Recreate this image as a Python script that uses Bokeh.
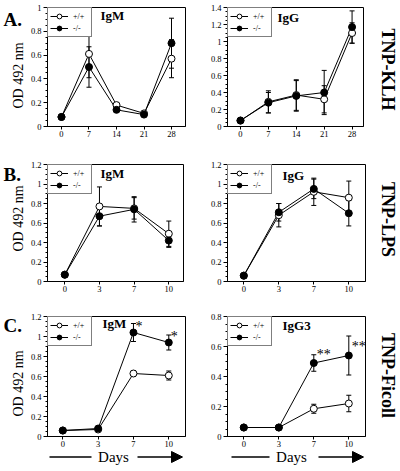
import math
from bokeh.plotting import figure
from bokeh.models import (Range1d, FixedTicker, Legend, LegendItem, Label, Whisker,
                          TeeHead, ColumnDataSource, Arrow, NormalHead)
from bokeh.layouts import column, row
from bokeh.embed import file_html
from bokeh.resources import INLINE
from bokeh.core.properties import value

SERIF = "Liberation Serif"

# ---------------- data ----------------
klh_days = ["0", "7", "14", "21", "28"]
short_days = ["0", "3", "7", "10"]

klh_igm_wt = [0.08, 0.61, 0.18, 0.11, 0.57]
klh_igm_wt_err = [0.0, 0.20, 0.02, 0.01, 0.16]
klh_igm_ko = [0.08, 0.50, 0.14, 0.10, 0.70]
klh_igm_ko_err = [0.0, 0.17, 0.01, 0.01, 0.21]

klh_igg_wt = [0.07, 0.29, 0.37, 0.32, 1.10]
klh_igg_wt_err = [0.0, 0.13, 0.18, 0.16, 0.12]
klh_igg_ko = [0.07, 0.28, 0.36, 0.40, 1.17]
klh_igg_ko_err = [0.0, 0.12, 0.18, 0.26, 0.19]

lps_igm_wt = [0.07, 0.77, 0.75, 0.49]
lps_igm_wt_err = [0.0, 0.20, 0.11, 0.13]
lps_igm_ko = [0.07, 0.67, 0.74, 0.42]
lps_igm_ko_err = [0.0, 0.10, 0.13, 0.07]

lps_igg_wt = [0.06, 0.68, 0.92, 0.86]
lps_igg_wt_err = [0.0, 0.12, 0.14, 0.17]
lps_igg_ko = [0.06, 0.71, 0.95, 0.70]
lps_igg_ko_err = [0.0, 0.09, 0.10, 0.13]

fic_igm_wt = [0.06, 0.07, 0.63, 0.61]
fic_igm_wt_err = [0.0, 0.01, 0.03, 0.045]
fic_igm_ko = [0.06, 0.08, 1.04, 0.94]
fic_igm_ko_err = [0.0, 0.01, 0.09, 0.075]

fic_igg3_wt = [0.06, 0.06, 0.185, 0.22]
fic_igg3_wt_err = [0.0, 0.0, 0.03, 0.055]
fic_igg3_ko = [0.06, 0.06, 0.49, 0.54]
fic_igg3_ko_err = [0.0, 0.0, 0.055, 0.13]

fic_igm_stars = ["*", "*"]
fic_igm_star_idx = [2, 3]
fic_igm_star_y = [1.10, 1.00]
fic_igg3_stars = ["**", "**"]
fic_igg3_star_idx = [2, 3]
fic_igg3_star_y = [0.55, 0.60]

panel_letters = ["A.", "B.", "C."]
antigens = ["TNP-KLH", "TNP-LPS", "TNP-Ficoll"]
y_title = "OD 492 nm"
x_title = "Days"

yt_10 = [0, 0.2, 0.4, 0.6, 0.8, 1]
yt_12 = [0, 0.2, 0.4, 0.6, 0.8, 1, 1.2]
yt_14 = [0, 0.2, 0.4, 0.6, 0.8, 1, 1.2, 1.4]
yt_08 = [0, 0.2, 0.4, 0.6, 0.8]

PAGE_W, PAGE_H = 400, 471


def blank_fig(x0, y0, w, h):
    """A figure without axes whose frame fills it; ranges are page pixels."""
    p = figure(width=w, height=h, output_backend="svg", toolbar_location=None,
               x_range=Range1d(x0, x0 + w), y_range=Range1d(y0 + h, y0),
               x_axis_type=None, y_axis_type=None,
               min_border_left=0, min_border_right=0, min_border_top=0, min_border_bottom=0)
    p.xgrid.visible = False
    p.ygrid.visible = False
    p.outline_line_color = None
    p.background_fill_color = "white"
    p.border_fill_color = "white"
    return p


def add_label(p, x, y, text, size, bold=False, align="left", angle=0.0):
    p.add_layout(Label(x=x, y=y, text=text, text_font=SERIF, text_font_size=size,
                       text_align=align, text_baseline="middle",
                       text_font_style="bold" if bold else "normal",
                       text_color="black", angle=angle))


def make_panel(cfg):
    ox, oy = cfg["origin"]
    w, h = cfg["size"]
    bl, br, bt, bb = cfg["borders"]
    x0, x1 = cfg["xr"]
    y0, y1 = cfg["yr"]
    fl, fr, ft, fb = ox + bl, ox + w - br, oy + bt, oy + h - bb

    def dx(px):
        return x0 + (px - fl) / (fr - fl) * (x1 - x0)

    def dy(py):
        return y1 - (py - ft) / (fb - ft) * (y1 - y0)

    p = figure(width=w, height=h, output_backend="svg", toolbar_location=None,
               x_range=Range1d(x0, x1), y_range=Range1d(y0, y1),
               min_border_left=bl, min_border_right=br,
               min_border_top=bt, min_border_bottom=bb)
    p.xgrid.visible = False
    p.ygrid.visible = False
    p.outline_line_color = "black"
    p.outline_line_width = 1
    p.background_fill_color = "white"
    p.border_fill_color = "white"

    cats = cfg["cats"]
    idx = list(range(len(cats)))
    p.xaxis.ticker = FixedTicker(ticks=idx)
    p.xaxis.major_label_overrides = {i: c for i, c in zip(idx, cats)}
    yt = cfg["yticks"]
    minor = []
    for k in range(len(yt) - 1):
        for j in range(1, 4):
            minor.append(round(yt[k] + j * (yt[k + 1] - yt[k]) / 4, 4))
    p.yaxis.ticker = FixedTicker(ticks=yt, minor_ticks=minor)
    p.yaxis.major_label_overrides = {t: ("%g" % t) for t in yt}

    for ax in (p.xaxis[0], p.yaxis[0]):
        ax.axis_line_color = "black"
        ax.major_tick_line_color = "black"
        ax.minor_tick_line_color = "black"
        ax.major_tick_in = 0
        ax.minor_tick_in = 0
        ax.major_label_text_font = SERIF
        ax.major_label_text_font_size = "8.5px"
        ax.major_label_text_color = "black"
    p.xaxis.major_label_standoff = 1
    p.yaxis.major_label_standoff = 2
    p.xaxis.major_tick_out = 3
    p.yaxis.major_tick_out = 4
    p.yaxis.minor_tick_out = 2

    wt, wte, ko, koe = cfg["wt"], cfg["wte"], cfg["ko"], cfg["koe"]
    for vals, errs in ((wt, wte), (ko, koe)):
        src = ColumnDataSource(dict(x=idx, upper=[v + e for v, e in zip(vals, errs)],
                                    lower=[v - e for v, e in zip(vals, errs)]))
        wh = Whisker(base="x", upper="upper", lower="lower", source=src,
                     line_color="black", line_width=1, level="underlay",
                     upper_head=TeeHead(size=5, line_color="black", line_width=1),
                     lower_head=TeeHead(size=5, line_color="black", line_width=1))
        p.add_layout(wh)

    lw = p.line(idx, wt, line_color="black", line_width=1)
    lk = p.line(idx, ko, line_color="black", line_width=1)
    sw = p.scatter(idx, wt, marker="circle", size=7, fill_color="white",
                   line_color="black", line_width=1)
    sk = p.scatter(idx, ko, marker="circle", size=7, fill_color="black",
                   line_color="black", line_width=1)

    legend = Legend(items=[LegendItem(label="+/+", renderers=[lw, sw]),
                           LegendItem(label="-/-", renderers=[lk, sk])],
                    location="top_left", margin=0, padding=2, spacing=0,
                    glyph_width=18, glyph_height=12, label_height=12, label_width=16,
                    label_standoff=5, label_text_font=SERIF, label_text_font_size="8px",
                    label_text_color="black",
                    border_line_color="black", border_line_width=1,
                    background_fill_color="white", background_fill_alpha=1)
    p.add_layout(legend)

    if "stars" in cfg:
        s_idx, s_y, s_t, s_off = cfg["stars"]
        p.text(s_idx, s_y, text=s_t, x_offset=s_off, text_font=value(SERIF),
               text_font_size="14px", text_align="left", text_baseline="middle",
               text_color="black")

    tx, ty, ttext = cfg["title"]
    add_label(p, dx(tx), dy(ty), ttext, "13px", bold=True)
    return p


# ---------------- panels (page pixel geometry) ----------------
pa1 = make_panel(dict(origin=(27, 0), size=(179, 155), borders=(20, 21, 7, 28),
                      xr=(-0.509, 4.509), yr=(0, 1), yticks=yt_10, cats=klh_days,
                      wt=klh_igm_wt, wte=klh_igm_wt_err, ko=klh_igm_ko, koe=klh_igm_ko_err,
                      title=(100, 15, "IgM")))
pa2 = make_panel(dict(origin=(206, 0), size=(166, 155), borders=(21, 9, 7, 29),
                      xr=(-0.466, 4.41), yr=(0, 1.4), yticks=yt_14, cats=klh_days,
                      wt=klh_igg_wt, wte=klh_igg_wt_err, ko=klh_igg_ko, koe=klh_igg_ko_err,
                      title=(277, 17, "IgG")))
pb1 = make_panel(dict(origin=(27, 155), size=(179, 155), borders=(20, 23, 9, 28),
                      xr=(-0.499, 3.424), yr=(0, 1.2), yticks=yt_12, cats=short_days,
                      wt=lps_igm_wt, wte=lps_igm_wt_err, ko=lps_igm_ko, koe=lps_igm_ko_err,
                      title=(100, 173, "IgM")))
pb2 = make_panel(dict(origin=(206, 155), size=(166, 155), borders=(21, 7, 7, 29),
                      xr=(-0.466, 3.477), yr=(0, 1.2), yticks=yt_12, cats=short_days,
                      wt=lps_igg_wt, wte=lps_igg_wt_err, ko=lps_igg_ko, koe=lps_igg_ko_err,
                      title=(282, 173, "IgG")))
pc1 = make_panel(dict(origin=(27, 310), size=(179, 140), borders=(20, 21, 6, 14),
                      xr=(-0.433, 3.473), yr=(0, 1.2), yticks=yt_12, cats=short_days,
                      wt=fic_igm_wt, wte=fic_igm_wt_err, ko=fic_igm_ko, koe=fic_igm_ko_err,
                      title=(102, 323, "IgM"),
                      stars=(fic_igm_star_idx, fic_igm_star_y, fic_igm_stars, 2)))
pc2 = make_panel(dict(origin=(206, 310), size=(166, 140), borders=(21, 7, 6, 14),
                      xr=(-0.466, 3.477), yr=(0, 0.8), yticks=yt_08, cats=short_days,
                      wt=fic_igg3_wt, wte=fic_igg3_wt_err, ko=fic_igg3_ko, koe=fic_igg3_ko_err,
                      title=(282, 325, "IgG3"),
                      stars=(fic_igg3_star_idx, fic_igg3_star_y, fic_igg3_stars, 3)))

# ---------------- text strips ----------------
left_strip = blank_fig(0, 0, 27, PAGE_H)
for txt, ly in zip(panel_letters, [19, 174, 325]):
    add_label(left_strip, 3, ly, txt, "19px", bold=True)
for oy in [75, 218, 383]:
    add_label(left_strip, 18, oy, y_title, "14px", align="center", angle=math.pi / 2)

right_strip = blank_fig(372, 0, 28, PAGE_H)
for txt, sy in zip(antigens, [69, 219, 375]):
    add_label(right_strip, 387, sy, txt, "18px", bold=True, align="center",
              angle=-math.pi / 2)

days_fig = blank_fig(27, 450, 345, 21)
for a, b, c, d, e in [(49, 91, 113, 137, 182), (231, 269, 291, 318, 363)]:
    yy = 456.5
    days_fig.add_layout(Arrow(x_start=a, y_start=yy, x_end=b, y_end=yy, start=None, end=None,
                              line_color="black", line_width=1.5))
    days_fig.add_layout(Arrow(x_start=d, y_start=yy, x_end=e, y_end=yy, start=None,
                              line_color="black", line_width=1.5,
                              end=NormalHead(size=11, fill_color="black", line_color="black")))
    add_label(days_fig, c, yy, x_title, "15px", align="center")

center = column(row(pa1, pa2), row(pb1, pb2), row(pc1, pc2), days_fig)
layout = row(left_strip, center, right_strip)
open("out.html", "w").write(file_html(layout, INLINE))
